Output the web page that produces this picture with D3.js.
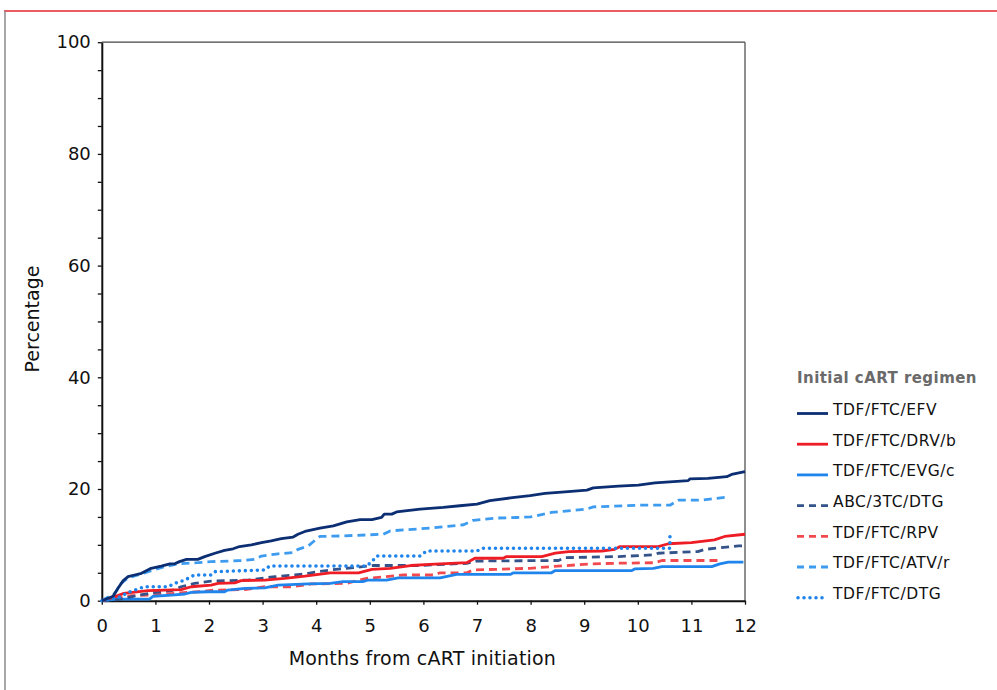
<!DOCTYPE html>
<html><head><meta charset="utf-8">
<script src="https://cdn.jsdelivr.net/npm/d3@7"></script>
<style>
html,body{margin:0;padding:0;background:#fff;}
svg{display:block;font-family:"DejaVu Sans",Verdana,sans-serif;}
</style></head>
<body><svg id="chart" width="997" height="690"></svg>
<script>
// ---- data ----
const seriesNames = ["TDF/FTC/EFV","TDF/FTC/DRV/b","TDF/FTC/EVG/c","ABC/3TC/DTG","TDF/FTC/RPV","TDF/FTC/ATV/r","TDF/FTC/DTG"];
const seriesColors = ["#0c2e72","#ee1c25","#1f84ec","#34538a","#f2494f","#3d9cf0","#1f84ec"];
const seriesDash = ["none","none","none","8,5","8,5","8,5","0,6"];

const efv = [[0,0],[0.21,0.8],[0.30,2.2],[0.40,3.6],[0.49,4.3],[0.61,4.6],[0.74,4.9],[0.92,5.8],[1.11,6.2],[1.27,6.6],[1.36,6.6],[1.45,7.0],[1.58,7.4],[1.79,7.4],[1.92,7.9],[2.11,8.5],[2.29,9.0],[2.45,9.3],[2.57,9.7],[2.79,10.0],[2.98,10.4],[3.16,10.7],[3.35,11.1],[3.57,11.4],[3.66,11.9],[3.79,12.4],[4.07,13.0],[4.32,13.4],[4.57,14.1],[4.82,14.5],[5.04,14.5],[5.22,14.9],[5.27,15.5],[5.41,15.5],[5.50,15.9],[5.94,16.4],[6.37,16.7],[6.68,17.0],[7.0,17.3],[7.24,17.9],[7.62,18.4],[7.99,18.8],[8.27,19.2],[8.64,19.5],[9.05,19.8],[9.17,20.2],[9.64,20.5],[10.01,20.7],[10.32,21.1],[10.94,21.5],[10.97,21.8],[11.31,21.9],[11.66,22.2],[11.75,22.6],[12.0,23.1]];
const drv = [[0,0],[0.18,0.5],[0.40,1.3],[0.49,1.4],[0.86,1.8],[1.17,1.9],[1.48,2.0],[1.67,2.5],[2.04,2.8],[2.17,3.1],[2.48,3.2],[2.60,3.6],[3.04,3.7],[3.41,4.0],[3.79,4.4],[4.26,5.0],[4.79,5.0],[5.04,5.6],[5.38,5.8],[5.76,6.3],[6.12,6.5],[6.81,6.8],[6.96,7.6],[7.49,7.6],[7.55,7.9],[8.21,7.9],[8.46,8.5],[8.71,8.8],[9.33,8.9],[9.57,9.2],[9.67,9.7],[10.38,9.7],[10.57,10.2],[11.0,10.4],[11.43,10.9],[11.62,11.5],[12.0,11.9]];
const evg = [[0,0],[0.30,0.3],[0.89,0.3],[0.96,0.8],[1.30,1.0],[1.55,1.2],[1.67,1.5],[1.98,1.6],[2.29,1.6],[2.35,1.9],[2.67,2.2],[3.04,2.3],[3.29,2.8],[3.85,3.0],[4.26,3.1],[4.50,3.4],[4.87,3.4],[4.97,3.7],[5.31,3.7],[5.53,4.1],[6.31,4.1],[6.62,4.7],[7.62,4.7],[7.68,5.0],[8.39,5.0],[8.46,5.4],[9.89,5.4],[9.95,5.7],[10.29,5.8],[10.45,6.1],[11.38,6.1],[11.53,6.6],[11.69,6.9],[11.97,6.9]];
const abc = [[0,0],[0.30,0.2],[0.70,1.0],[1.0,1.5],[1.30,1.8],[1.48,2.5],[1.73,3.1],[2.04,3.5],[2.73,3.7],[3.23,4.3],[3.60,4.6],[3.85,4.9],[4.03,5.2],[4.26,5.5],[5.07,6.3],[5.94,6.3],[6.81,6.7],[7.0,7.1],[8.52,7.2],[8.64,7.7],[9.64,7.9],[10.29,8.2],[10.38,8.5],[11.12,8.8],[11.25,9.2],[11.88,9.8],[12.0,9.8]];
const rpv = [[0,0],[0.36,0.7],[0.55,0.9],[0.86,1.0],[1.17,1.2],[1.79,1.6],[2.11,1.9],[2.67,2.0],[3.04,2.5],[3.54,2.5],[3.91,3.0],[4.57,3.1],[4.76,3.6],[4.94,4.0],[5.31,4.3],[5.63,4.6],[6.19,4.6],[6.31,5.0],[6.81,5.0],[6.93,5.5],[7.99,5.8],[8.39,6.1],[9.14,6.6],[9.57,6.7],[10.32,6.8],[10.45,7.2],[11.57,7.2]];
const atv = [[0,0],[0.24,1.3],[0.36,3.1],[0.49,4.1],[0.74,4.8],[0.96,5.5],[1.17,6.1],[1.42,6.6],[1.79,6.8],[2.04,7.0],[2.42,7.1],[2.60,7.2],[2.85,7.4],[2.98,8.0],[3.29,8.4],[3.57,8.6],[3.66,9.2],[3.85,9.8],[3.95,10.6],[4.07,11.5],[4.50,11.6],[5.25,11.9],[5.38,12.5],[6.12,13.0],[6.75,13.6],[6.93,14.4],[7.37,14.8],[7.74,14.9],[8.0,15.0],[8.39,15.8],[9.05,16.4],[9.17,16.8],[10.01,17.1],[10.60,17.1],[10.76,18.0],[11.19,18.0],[11.69,18.6]];
const dtg = [[0,0],[0.30,0.5],[0.50,1.5],[0.61,1.9],[0.80,2.5],[1.24,2.5],[1.36,3.1],[1.55,3.7],[1.73,4.6],[2.04,4.6],[2.11,5.2],[3.04,5.5],[3.13,6.2],[4.94,6.2],[5.04,7.0],[5.13,8.0],[5.94,8.0],[6.06,8.9],[7.0,8.9],[7.12,9.4],[10.57,9.4],[10.60,9.4],[10.60,11.8]];
const seriesData = [efv,drv,evg,abc,rpv,atv,dtg];

const xTicks = [0,1,2,3,4,5,6,7,8,9,10,11,12];
const yTicks = [0,5,10,15,20,25,30,35,40,45,50,55,60,65,70,75,80,85,90,95,100];
const yLabelTicks = [0,20,40,60,80,100];
const xTitle = "Months from cART initiation";
const yTitle = "Percentage";
const legendTitle = "Initial cART regimen";

// ---- drawing ----
const svg = d3.select("#chart");
const W = 997, H = 690;
const plot = {left:101.8, right:745, top:42.2, bottom:600.7};

// outer frame
svg.append("line").attr("x1",4).attr("x2",W).attr("y1",11).attr("y2",11)
  .attr("stroke","#e3262d").attr("stroke-width",1.5);
svg.append("line").attr("x1",5).attr("x2",5).attr("y1",11).attr("y2",H)
  .attr("stroke","#8a8a8a").attr("stroke-width",1.5);

const x = d3.scaleLinear().domain([0,12]).range([plot.left, plot.right]);
const y = d3.scaleLinear().domain([0,100]).range([plot.bottom, plot.top]);

// plot frame top/right
svg.append("line").attr("x1",plot.left).attr("x2",plot.right).attr("y1",plot.top).attr("y2",plot.top)
  .attr("stroke","#444").attr("stroke-width",1.2);
svg.append("line").attr("x1",plot.right).attr("x2",plot.right).attr("y1",plot.top).attr("y2",plot.bottom)
  .attr("stroke","#444").attr("stroke-width",1.2);

const gx = svg.append("g").attr("transform",`translate(0,${plot.bottom})`)
  .call(d3.axisBottom(x).tickValues(xTicks).tickSize(4).tickPadding(15).tickSizeOuter(0).tickFormat(d3.format("d")));
const gy = svg.append("g").attr("transform",`translate(${plot.left},0)`)
  .call(d3.axisLeft(y).tickValues(yTicks).tickSize(4).tickPadding(7).tickSizeOuter(0)
    .tickFormat(d => yLabelTicks.includes(d) ? d : ""));
[gx,gy].forEach(g=>{
  g.select(".domain").attr("stroke","#111").attr("stroke-width",2);
  g.selectAll(".tick line").attr("stroke","#111").attr("stroke-width",1.3);
  g.selectAll(".tick text").attr("font-size",18).attr("fill","#111").attr("font-family","DejaVu Sans, sans-serif");
});

svg.append("text").attr("x",(plot.left+plot.right)/2 - 1).attr("y",665)
  .attr("text-anchor","middle").attr("font-size",19).attr("letter-spacing",0.2).attr("fill","#111").text(xTitle);
svg.append("text").attr("transform",`translate(39,319) rotate(-90)`)
  .attr("text-anchor","middle").attr("font-size",19).attr("fill","#111").text(yTitle);

// lines
const line = d3.line().x(d=>x(d[0])).y(d=>y(d[1]));
const order = [4,2,3,1,6,5,0];
order.forEach(i=>{
  const isDot = seriesDash[i]==="0,6";
  svg.append("path").datum(seriesData[i]).attr("d",line)
    .attr("fill","none").attr("stroke",seriesColors[i])
    .attr("stroke-width", isDot?3.6:2.8)
    .attr("stroke-linecap", isDot?"round":"butt")
    .attr("stroke-linejoin","round")
    .attr("stroke-dasharray", seriesDash[i]);
});

// legend
const lg = svg.append("g");
lg.append("text").attr("x",797).attr("y",382.5).attr("font-size",15).attr("letter-spacing",0.45).attr("font-weight","bold")
  .attr("fill","#6a6a6a").text(legendTitle);
seriesNames.forEach((n,i)=>{
  const yy = 409.5 + i*30.7;
  const isDot = seriesDash[i]==="0,6";
  lg.append("line").attr("x1",isDot?798:797).attr("x2",828).attr("y1",yy+4).attr("y2",yy+4)
    .attr("stroke",seriesColors[i]).attr("stroke-width",isDot?3.6:2.8)
    .attr("stroke-linecap",isDot?"round":"butt")
    .attr("stroke-dasharray",isDot?"0,6":(seriesDash[i]==="none"?"none":"7,5"));
  lg.append("text").attr("x",833).attr("y",yy).attr("dy","0.35em").attr("font-size",15.5).attr("letter-spacing",0.55)
    .attr("fill","#111").text(n);
});
</script></body></html>
